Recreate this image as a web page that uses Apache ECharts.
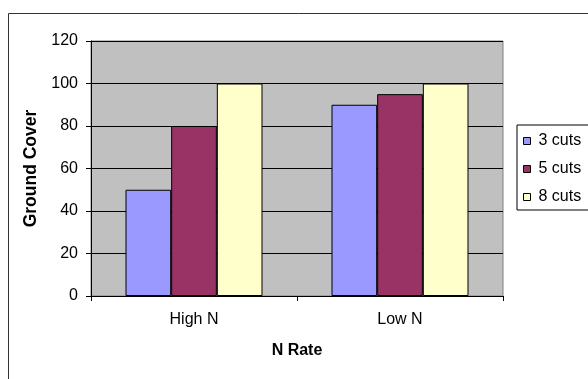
<!DOCTYPE html>
<html><head><meta charset="utf-8">
<script src="https://cdn.jsdelivr.net/npm/echarts@6/dist/echarts.min.js"></script>
<style>html,body{margin:0;padding:0;background:#fff;}#c{width:588px;height:379px;}</style>
</head><body><div id="c"></div>
<script>
var categories = ["High N", "Low N"];
var seriesNames = ["3 cuts", "5 cuts", "8 cuts"];
var cuts3 = [50, 90];
var cuts5 = [80, 95];
var cuts8 = [100, 100];
var yTicks = [0, 20, 40, 60, 80, 100, 120];

var colors = ["#9999ff", "#993366", "#ffffcc"];
var values = [cuts3, cuts5, cuts8];
var font = "Liberation Sans, Arial, sans-serif";
var chart = echarts.init(document.getElementById('c'), null, {renderer: 'canvas'});
chart.setOption({
  animation: false,
  textStyle: {fontFamily: font},
  graphic: [{type: 'rect', left: 6, top: 11, shape: {x: 0, y: 0, width: 620, height: 420},
    style: {fill: 'none', stroke: '#333', lineWidth: 1}, z: -1}],
  grid: {left: 91, top: 41, width: 412, height: 255, show: true, backgroundColor: '#c0c0c0', borderColor: '#808080', borderWidth: 1},
  legend: {
    orient: 'vertical', left: 517, top: 125, width: 75,
    padding: [8, 8, 5, 6], itemGap: 12, itemWidth: 7, itemHeight: 7,
    backgroundColor: '#fff', borderColor: '#000', borderWidth: 1,
    icon: 'rect',
    textStyle: {fontSize: 16, color: '#000', fontFamily: font, padding: [0, 0, 0, 3]},
    data: seriesNames.map(function (n, i) { return {name: n, itemStyle: {borderColor: '#000', borderWidth: 1}}; })
  },
  xAxis: {
    type: 'category', data: categories,
    name: 'N Rate', nameLocation: 'middle', nameGap: 47,
    nameTextStyle: {fontWeight: 'bold', fontSize: 16, color: '#000', fontFamily: font},
    axisLine: {lineStyle: {color: '#000'}},
    axisTick: {show: true, length: 5, lineStyle: {color: '#000'}},
    axisLabel: {fontSize: 16, color: '#000', margin: 16, fontFamily: font}
  },
  yAxis: {
    type: 'value', min: yTicks[0], max: yTicks[yTicks.length - 1], interval: 20,
    name: 'Ground Cover', nameLocation: 'middle', nameGap: 46,
    nameTextStyle: {fontWeight: 'bold', fontSize: 17.5, color: '#000', fontFamily: font},
    axisLine: {show: true, lineStyle: {color: '#000'}},
    axisTick: {show: true, length: 5, lineStyle: {color: '#000'}},
    axisLabel: {fontSize: 16, color: '#000', margin: 13, fontFamily: font},
    splitLine: {lineStyle: {color: '#000', width: 1}}
  },
  series: seriesNames.map(function (n, i) {
    return {
      name: n, type: 'bar', data: values[i],
      barGap: '0%', barCategoryGap: '33.5%',
      itemStyle: {color: colors[i], borderColor: '#000', borderWidth: 1}
    };
  })
});
</script></body></html>
